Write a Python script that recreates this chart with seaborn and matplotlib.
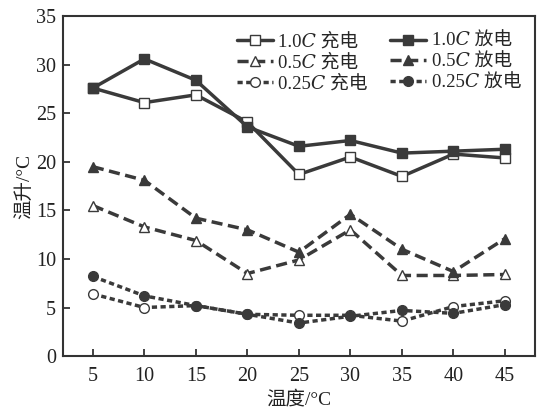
import pandas as pd
import matplotlib
matplotlib.use("Agg")
import matplotlib.pyplot as plt
import seaborn as sns

# ---------------- data ----------------
temps = [5, 10, 15, 20, 25, 30, 35, 40, 45]
c10_charge = [27.6, 26.1, 26.9, 24.1, 18.7, 20.5, 18.5, 20.8, 20.4]
c10_discharge = [27.6, 30.6, 28.4, 23.6, 21.6, 22.2, 20.9, 21.1, 21.3]
c05_charge = [15.5, 13.3, 11.9, 8.5, 9.9, 13.0, 8.3, 8.3, 8.4]
c05_discharge = [19.5, 18.1, 14.2, 13.0, 10.7, 14.6, 11.0, 8.7, 12.1]
c025_charge = [6.4, 5.0, 5.2, 4.3, 4.2, 4.2, 3.6, 5.1, 5.7]
c025_discharge = [8.2, 6.2, 5.2, 4.3, 3.4, 4.1, 4.7, 4.4, 5.3]

series = [
    ("1.0\U0001D436 充电", c10_charge, '-', 's', 'white'),
    ("0.5\U0001D436 充电", c05_charge, (0, (3.2, 1.6)), '^', 'white'),
    ("0.25\U0001D436 充电", c025_charge, (0, (1.5, 1.0)), 'o', 'white'),
    ("1.0\U0001D436 放电", c10_discharge, '-', 's', '#3a3a3a'),
    ("0.5\U0001D436 放电", c05_discharge, (0, (3.2, 1.6)), '^', '#3a3a3a'),
    ("0.25\U0001D436 放电", c025_discharge, (0, (1.5, 1.0)), 'o', '#3a3a3a'),
]

# ---------------- plot ----------------
sns.set_style("white")
plt.rcParams['font.family'] = ['Liberation Serif', 'DejaVu Serif', 'Noto Sans CJK SC']

fig, ax = plt.subplots(figsize=(5.43, 4.15), dpi=100)
fig.subplots_adjust(left=0.116, right=0.985, top=0.961, bottom=0.142)

line_col = '#3a3a3a'
for label, vals, ls, mk, fc in series:
    df = pd.DataFrame({'temp': temps, 'rise': vals})
    sns.lineplot(data=df, x='temp', y='rise', ax=ax, color=line_col, linestyle=ls,
                 linewidth=2.5, marker=mk, markersize=7, markerfacecolor=fc,
                 markeredgecolor=line_col, markeredgewidth=1.0, label=label)

ax.set_xlim(2.1, 47.9)
ax.set_ylim(0, 35)
ax.set_xticks(temps)
ax.set_yticks(range(0, 36, 5))
ax.tick_params(axis='both', direction='in', length=5, width=1.2, labelsize=14.5,
               colors='#222222', bottom=True, left=True, top=False, right=False)
ax.tick_params(axis='x', pad=8)
ax.tick_params(axis='y', pad=5)
for sp in ax.spines.values():
    sp.set_color('#333333')
    sp.set_linewidth(1.5)

ax.set_xlabel('温度/°C', fontsize=14, color='#222222', labelpad=3)
ax.set_ylabel('温升/°C', fontsize=14, color='#222222', labelpad=2)

leg = ax.legend(ncol=2, loc='upper right', bbox_to_anchor=(0.995, 0.985), frameon=False,
                fontsize=13.5, handlelength=1.9, handletextpad=0.3, columnspacing=1.2,
                labelspacing=0.2, borderaxespad=0.2)

plt.savefig('out.png', dpi=100)
